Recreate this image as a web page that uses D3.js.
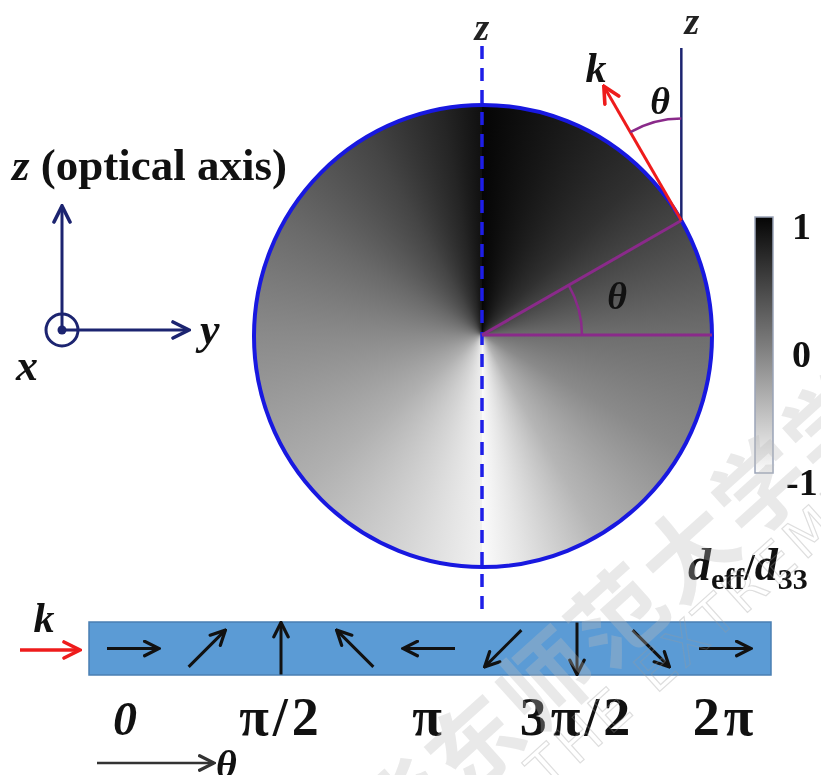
<!DOCTYPE html>
<html><head><meta charset="utf-8">
<script src="https://cdn.jsdelivr.net/npm/d3@7"></script>
<style>
html,body{margin:0;padding:0;background:#fff;}
#wrap{position:relative;width:821px;height:775px;overflow:hidden;background:#fff;}
#wrap canvas,#wrap svg{position:absolute;left:0;top:0;}
svg{font-family:"Liberation Serif","Times New Roman",serif;font-weight:bold;}
</style></head><body><div id="wrap"></div>
<script>
// d_eff/d_33 around the disk; angle measured clockwise from +z, in degrees
const shadeAngles = [0, 45, 75, 90, 120, 150, 170, 180, 180, 200, 230, 270, 300, 330, 350, 360];
const shadeValues = [1.0, 0.64, 0.29, 0.12, -0.11, -0.45, -0.83, -1.0, -0.91, -0.70, -0.41, -0.11, 0.15, 0.46, 0.73, 0.91];
const colorbarTicks = [1, 0, -1];
// polarisation direction of each domain along the strip, degrees
const dipoleAngles = [0, 45, 90, 135, 180, 225, 270, 315, 360];
const phaseTicks = [0, 90, 180, 270, 360];
const phaseLabels = ["0", "π/2", "π", "3π/2", "2π"];
const kTheta = 30; // propagation angle θ of k from the optical axis

const W = 821, H = 775;
const disk = {cx: 483, cy: 336, rx: 229, ry: 231};
const origin = {x: 482, y: 335};

const gray = d3.scaleLinear().domain([-1, 0, 1]).range(["#fbfbfb", "#7c7c7c", "#050505"]);

const wrap = d3.select("#wrap");

// ---- shaded disk (conic gradient on canvas) ----
const canvas = wrap.append("canvas").attr("width", W).attr("height", H).node();
const ctx = canvas.getContext("2d");
const cg = ctx.createConicGradient(-Math.PI / 2, origin.x, origin.y);
shadeAngles.forEach((a, i) => cg.addColorStop(a / 360, gray(shadeValues[i])));
ctx.beginPath();
ctx.ellipse(disk.cx, disk.cy, disk.rx, disk.ry, 0, 0, 2 * Math.PI);
ctx.fillStyle = cg;
ctx.fill();

// ---- vector overlay ----
const svg = wrap.append("svg").attr("width", W).attr("height", H);
const defs = svg.append("defs");
function marker(id, color, size) {
  defs.append("marker").attr("id", id)
    .attr("viewBox", "0 0 10 10").attr("refX", 9).attr("refY", 5)
    .attr("markerWidth", size).attr("markerHeight", size)
    .attr("markerUnits", "userSpaceOnUse").attr("orient", "auto")
    .append("path").attr("d", "M1,1 L9,5 L1,9")
    .attr("fill", "none").attr("stroke", color).attr("stroke-width", 1.8)
    .attr("stroke-linecap", "round").attr("stroke-linejoin", "miter");
}
marker("hNavy", "#1c2470", 20);
marker("hRed", "#ee1c1c", 20);
marker("hBlack", "#111", 18);
marker("hGray", "#333", 18);

const grad = defs.append("linearGradient").attr("id", "cbar")
  .attr("x1", 0).attr("y1", 0).attr("x2", 0).attr("y2", 1);

// colorbar
const cbScale = d3.scaleLinear().domain([-1, 1]).range([473, 217]);
[1, 0.5, 0, -0.5, -1].forEach(v => grad.append("stop")
  .attr("offset", (cbScale(v) - 217) / (473 - 217)).attr("stop-color", gray(v)));
svg.append("rect").attr("x", 755).attr("y", cbScale(1)).attr("width", 18)
  .attr("height", cbScale(-1) - cbScale(1)).attr("fill", "url(#cbar)")
  .attr("stroke", "#9aa4b8").attr("stroke-width", 1.5);
svg.append("g").selectAll("text").data(colorbarTicks).join("text")
  .attr("x", d => d < 0 ? 786 : 792).attr("y", d => cbScale(d) + 22)
  .attr("font-size", 38).attr("fill", "#111").text(d => d);
const dl = svg.append("text").attr("x", 688).attr("y", 580).attr("fill", "#111").attr("font-size", 46);
dl.append("tspan").attr("font-style", "italic").text("d");
dl.append("tspan").attr("font-size", 30).attr("dy", 9).text("eff");
dl.append("tspan").attr("dy", -9).attr("font-size", 38).text("/");
dl.append("tspan").attr("font-style", "italic").text("d");
dl.append("tspan").attr("font-size", 30).attr("dy", 9).text("33");

// disk outline
svg.append("ellipse").attr("cx", disk.cx).attr("cy", disk.cy)
  .attr("rx", disk.rx).attr("ry", disk.ry)
  .attr("fill", "none").attr("stroke", "#1818e0").attr("stroke-width", 4);

// optical axis through the disk
svg.append("line").attr("x1", origin.x).attr("x2", origin.x).attr("y1", 46).attr("y2", 612)
  .attr("stroke", "#1e1ee8").attr("stroke-width", 3.5).attr("stroke-dasharray", "13,9");
svg.append("text").attr("x", origin.x).attr("y", 40).attr("text-anchor", "middle")
  .attr("font-style", "italic").attr("font-size", 38).attr("fill", "#222").text("z");

// θ construction
const t = kTheta * Math.PI / 180;
const P = {x: disk.cx + disk.rx * Math.cos(t), y: disk.cy - disk.ry * Math.sin(t)};
const purple = "#8a2a8a";
svg.append("line").attr("x1", origin.x).attr("y1", origin.y).attr("x2", P.x).attr("y2", P.y)
  .attr("stroke", purple).attr("stroke-width", 3);
svg.append("line").attr("x1", origin.x).attr("y1", origin.y).attr("x2", disk.cx + disk.rx).attr("y2", origin.y)
  .attr("stroke", purple).attr("stroke-width", 3);
const arc = d3.arc();
svg.append("path")
  .attr("transform", `translate(${origin.x},${origin.y})`)
  .attr("d", arc({innerRadius: 100, outerRadius: 100, startAngle: Math.PI / 2 - t, endAngle: Math.PI / 2}))
  .attr("fill", "none").attr("stroke", purple).attr("stroke-width", 2.5);
svg.append("text").attr("x", 617).attr("y", 309).attr("text-anchor", "middle")
  .attr("font-style", "italic").attr("font-size", 38).attr("fill", "#111").text("θ");

// local z axis and wave vector k at the tangent point
svg.append("line").attr("x1", P.x).attr("x2", P.x).attr("y1", 48).attr("y2", P.y)
  .attr("stroke", "#1c2470").attr("stroke-width", 2.5);
svg.append("text").attr("x", 692).attr("y", 34).attr("text-anchor", "middle")
  .attr("font-style", "italic").attr("font-size", 38).attr("fill", "#222").text("z");
const kLen = 155;
svg.append("line").attr("x1", P.x).attr("y1", P.y)
  .attr("x2", P.x - kLen * Math.sin(t)).attr("y2", P.y - kLen * Math.cos(t))
  .attr("stroke", "#ee1c1c").attr("stroke-width", 3).attr("marker-end", "url(#hRed)");
svg.append("path")
  .attr("transform", `translate(${P.x},${P.y})`)
  .attr("d", arc({innerRadius: 102, outerRadius: 102, startAngle: -t, endAngle: 0}))
  .attr("fill", "none").attr("stroke", purple).attr("stroke-width", 2.5);
svg.append("text").attr("x", 660).attr("y", 114).attr("text-anchor", "middle")
  .attr("font-style", "italic").attr("font-size", 38).attr("fill", "#111").text("θ");
svg.append("text").attr("x", 596).attr("y", 82).attr("text-anchor", "middle")
  .attr("font-style", "italic").attr("font-size", 42).attr("fill", "#111").text("k");

// crystal coordinate frame
const frame = {x: 62, y: 330};
const navy = "#1c2470";
svg.append("line").attr("x1", frame.x).attr("y1", frame.y).attr("x2", frame.x).attr("y2", 206)
  .attr("stroke", navy).attr("stroke-width", 3).attr("marker-end", "url(#hNavy)");
svg.append("line").attr("x1", frame.x).attr("y1", frame.y).attr("x2", 189).attr("y2", frame.y)
  .attr("stroke", navy).attr("stroke-width", 3).attr("marker-end", "url(#hNavy)");
svg.append("circle").attr("cx", frame.x).attr("cy", frame.y).attr("r", 16)
  .attr("fill", "none").attr("stroke", navy).attr("stroke-width", 3);
svg.append("circle").attr("cx", frame.x).attr("cy", frame.y).attr("r", 4.5).attr("fill", navy);
svg.append("text").attr("x", 200).attr("y", 344).attr("font-style", "italic")
  .attr("font-size", 44).attr("fill", "#111").text("y");
svg.append("text").attr("x", 16).attr("y", 380).attr("font-style", "italic")
  .attr("font-size", 44).attr("fill", "#111").text("x");
const za = svg.append("text").attr("x", 12).attr("y", 180).attr("font-size", 45).attr("fill", "#111");
za.append("tspan").attr("font-style", "italic").text("z");
za.append("tspan").text(" (optical axis)");

// domain strip
const strip = {x0: 89, x1: 771, y0: 622, y1: 675};
svg.append("rect").attr("x", strip.x0).attr("y", strip.y0)
  .attr("width", strip.x1 - strip.x0).attr("height", strip.y1 - strip.y0)
  .attr("fill", "#5b9bd5").attr("stroke", "#4a7fb2").attr("stroke-width", 1.5);
const xPhase = d3.scaleLinear().domain([0, 360]).range([133, 725]);
const yMid = (strip.y0 + strip.y1) / 2;
const half = 26;
svg.append("g").selectAll("line").data(dipoleAngles).join("line")
  .attr("x1", d => xPhase(d) - half * Math.cos(d * Math.PI / 180))
  .attr("y1", d => yMid + half * Math.sin(d * Math.PI / 180))
  .attr("x2", d => xPhase(d) + half * Math.cos(d * Math.PI / 180))
  .attr("y2", d => yMid - half * Math.sin(d * Math.PI / 180))
  .attr("stroke", "#111").attr("stroke-width", 3).attr("marker-end", "url(#hBlack)");
svg.append("g").selectAll("text").data(phaseTicks).join("text")
  .attr("x", d => xPhase(d) - (d === 0 ? 6 : 0)).attr("y", 735).attr("text-anchor", "middle")
  .attr("font-size", (d, i) => i === 0 ? 48 : 54).attr("fill", "#111").attr("letter-spacing", 4)
  .attr("font-style", (d, i) => i === 0 ? "italic" : "normal")
  .text((d, i) => phaseLabels[i]);

// incident k on the strip
svg.append("line").attr("x1", 20).attr("y1", 650).attr("x2", 80).attr("y2", 650)
  .attr("stroke", "#ee1c1c").attr("stroke-width", 3.5).attr("marker-end", "url(#hRed)");
svg.append("text").attr("x", 44).attr("y", 632).attr("text-anchor", "middle")
  .attr("font-style", "italic").attr("font-size", 42).attr("fill", "#111").text("k");

// θ direction along the strip
svg.append("line").attr("x1", 97).attr("y1", 763).attr("x2", 214).attr("y2", 763)
  .attr("stroke", "#333").attr("stroke-width", 2.5).attr("marker-end", "url(#hGray)");
svg.append("text").attr("x", 216).attr("y", 778).attr("font-style", "italic")
  .attr("font-size", 40).attr("fill", "#111").text("θ");

// faint journal watermark over the figure
const wm = svg.append("g").attr("opacity", 0.32).attr("pointer-events", "none");
wm.append("text").attr("transform", "translate(399,804) rotate(-42)")
  .attr("x", -46).attr("dominant-baseline", "central")
  .attr("font-family", "'Noto Sans CJK SC'").attr("font-weight", "bold")
  .attr("font-size", 92).attr("fill", "#bcbcbc").attr("letter-spacing", 4)
  .text("华东师范大学学报");
wm.append("text").attr("transform", "translate(548,792) rotate(-42)")
  .attr("font-family", "'DejaVu Sans'").attr("font-weight", "normal")
  .attr("font-size", 54).attr("letter-spacing", 5)
  .attr("fill", "none").attr("stroke", "#9a9a9a").attr("stroke-width", 1.2)
  .text("THE EXTREME");
</script></body></html>
